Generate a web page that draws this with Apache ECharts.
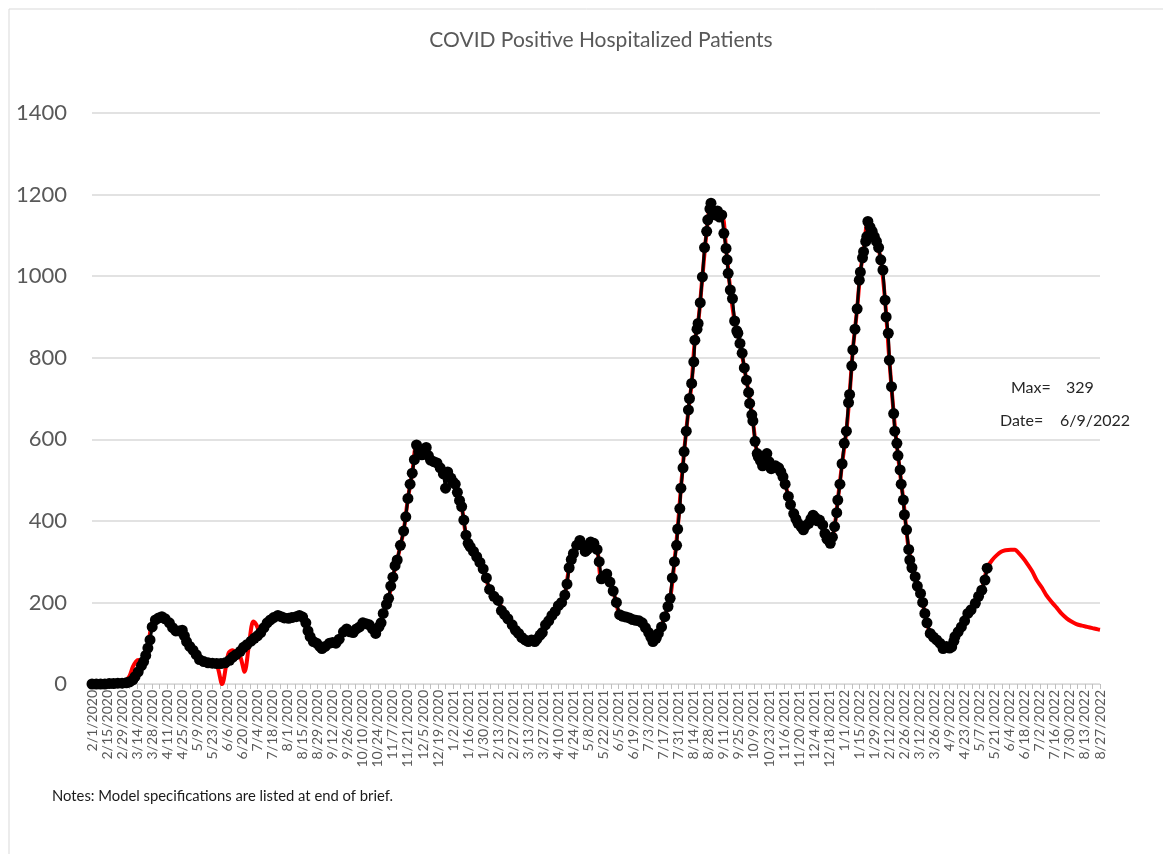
<!DOCTYPE html>
<html>
<head>
<meta charset="utf-8">
<script src="https://cdn.jsdelivr.net/npm/echarts@6/dist/echarts.min.js"></script>
<style>
html,body{margin:0;padding:0;background:#fff;}
#chart{width:1163px;height:854px;}
</style>
</head>
<body>
<div id="chart"></div>
<script>
// x tick labels (every 14 days from 2/1/2020)
const xTickLabels = ['2/1/2020','2/15/2020','2/29/2020','3/14/2020','3/28/2020','4/11/2020','4/25/2020','5/9/2020','5/23/2020','6/6/2020','6/20/2020','7/4/2020','7/18/2020','8/1/2020','8/15/2020','8/29/2020','9/12/2020','9/26/2020','10/10/2020','10/24/2020','11/7/2020','11/21/2020','12/5/2020','12/19/2020','1/2/2021','1/16/2021','1/30/2021','2/13/2021','2/27/2021','3/13/2021','3/27/2021','4/10/2021','4/24/2021','5/8/2021','5/22/2021','6/5/2021','6/19/2021','7/3/2021','7/17/2021','7/31/2021','8/14/2021','8/28/2021','9/11/2021','9/25/2021','10/9/2021','10/23/2021','11/6/2021','11/20/2021','12/4/2021','12/18/2021','1/1/2022','1/15/2022','1/29/2022','2/12/2022','2/26/2022','3/12/2022','3/26/2022','4/9/2022','4/23/2022','5/7/2022','5/21/2022','6/4/2022','6/18/2022','7/2/2022','7/16/2022','7/30/2022','8/13/2022','8/27/2022'];
const yTicks = [0,200,400,600,800,1000,1200,1400];

// Observed hospitalized patients: day offset from 2/1/2020, value
const observedDays = [0,4,8,12,16,20,24,28,32,35,38,40,43,46,48,50,52,54,56,59,62,65,68,72,75,78,81,84,86,88,91,94,97,100,104,108,112,116,120,124,128,131,134,138,141,144,148,151,154,157,160,163,166,169,173,176,179,183,186,190,193,196,199,201,203,206,209,212,214,217,221,224,227,230,234,237,240,243,246,249,252,255,258,261,264,267,269,271,274,276,278,280,282,284,287,290,292,294,296,298,300,302,304,307,309,311,313,315,318,321,324,327,329,331,334,336,338,340,342,344,346,348,350,352,355,358,361,364,367,370,374,378,381,384,387,391,394,397,400,403,406,409,412,414,417,419,422,425,428,431,434,437,440,442,444,446,448,451,454,457,459,461,464,467,470,472,474,476,479,482,485,488,491,494,497,500,503,506,509,512,515,518,520,522,525,527,530,533,536,538,540,542,544,545,547,548,550,551,553,555,556,558,560,561,563,564,566,568,570,572,573,575,576,578,580,582,584,586,588,590,591,592,594,596,598,600,601,603,605,607,609,611,612,614,615,617,619,620,622,624,626,628,630,632,634,636,639,641,643,645,648,650,653,655,657,660,662,664,667,669,671,673,675,677,680,682,684,687,689,691,693,694,696,698,700,702,704,705,707,708,710,712,714,715,717,718,720,721,722,724,726,728,730,732,734,736,738,739,741,742,744,746,747,749,750,752,753,755,756,758,760,761,763,766,768,771,773,775,777,780,783,786,789,792,795,798,800,802,803,806,809,812,815,818,822,825,828,831,833];
const observedValues = [0,0,0,0,1,1,2,2,3,5,10,18,30,45,55,70,88,108,140,157,162,165,160,150,138,130,130,132,118,104,92,83,72,60,55,52,51,50,50,52,58,66,72,80,90,96,105,112,118,126,138,150,157,163,168,165,162,161,163,165,168,164,150,130,116,104,100,92,87,92,100,102,100,110,128,135,128,126,135,140,150,148,145,135,124,140,150,173,195,210,240,262,290,304,340,375,410,455,490,517,550,586,570,562,575,580,560,549,545,542,530,515,480,520,505,495,490,470,450,435,402,365,345,336,325,312,298,282,260,232,215,205,180,170,160,145,132,124,114,108,104,108,104,110,120,126,145,155,168,178,192,200,218,245,285,305,320,340,352,340,325,330,348,345,330,300,258,262,270,250,228,200,170,166,164,162,158,156,155,150,138,126,115,104,112,124,140,165,190,210,260,300,340,380,430,480,530,570,620,672,700,737,790,843,870,884,935,998,1070,1110,1138,1165,1179,1160,1150,1160,1145,1150,1105,1068,1040,1007,966,945,890,866,860,835,811,775,745,715,688,660,645,595,565,557,548,535,550,565,545,528,530,535,530,520,508,490,460,440,418,405,394,385,378,388,394,405,414,408,400,402,390,369,355,345,360,386,420,451,490,540,590,620,690,710,780,819,870,920,990,1010,1045,1060,1085,1097,1134,1120,1110,1097,1085,1070,1040,1015,941,900,860,794,729,663,620,590,560,525,490,451,415,378,330,304,285,263,240,222,200,173,150,124,115,108,100,87,92,88,91,105,116,128,140,155,173,182,198,215,230,255,284];

// Model (red): day offset from 2/1/2020, value
const modelDays = [0,10,20,26,31,35,38,41,43,46,49,52,55,58,62,66,72,77,85,88,94,99,105,110,116,121,127,131,135,138,142,146,150,153,156,160,166,173,183,193,199,204,209,214,221,227,234,243,252,258,264,268,271,276,280,284,287,290,294,298,302,307,311,315,321,327,331,336,340,344,348,352,358,364,370,378,384,391,397,403,409,414,419,425,431,437,440,444,448,454,459,464,470,474,479,485,491,497,503,509,515,520,522,527,533,538,542,545,548,551,555,558,561,564,568,572,576,580,586,590,594,598,603,607,611,615,619,624,628,632,639,645,650,655,660,664,669,675,680,684,687,691,694,698,702,705,708,712,715,718,722,726,730,734,738,742,746,750,755,760,766,771,775,780,786,792,798,803,809,815,822,828,833,838,842,846,850,855,859,862,866,870,875,879,884,888,893,898,902,907,911,916,921,926,931,936,938];
const modelValues = [0,0,2,4,8,20,42,55,59,55,65,90,140,158,165,163,150,133,132,104,83,63,55,52,47,0,75,83,75,67,30,95,153,145,128,138,157,168,161,168,150,112,100,87,100,100,128,126,150,145,124,145,173,210,262,304,340,375,455,517,586,562,580,549,542,515,520,495,470,435,365,336,312,282,232,205,170,145,124,108,108,110,126,155,178,200,218,285,320,352,325,348,330,258,270,228,170,164,158,155,138,115,104,124,165,210,300,380,480,570,672,737,843,884,998,1110,1179,1150,1150,1068,966,890,835,775,715,645,565,535,565,528,530,490,440,405,385,388,405,400,390,355,345,386,451,540,620,710,819,920,1010,1060,1134,1110,1085,1040,941,794,663,560,451,330,263,222,173,124,108,87,88,116,140,173,198,230,284,305,316,324,328,329,329,322,310,296,276,255,236,218,201,186,173,161,154,147,143,140,137,134,133];

const pair = (ds, vs) => ds.map((d, i) => [d, vs[i]]);

const chart = echarts.init(document.getElementById('chart'), null, {renderer: 'canvas'});
const FONT = 'Lato, "Open Sans", sans-serif';

chart.setOption({
  animation: false,
  backgroundColor: '#ffffff',
  title: {
    text: 'COVID Positive Hospitalized Patients',
    left: 596,
    top: 25,
    textAlign: 'center',
    textStyle: {fontFamily: FONT, fontSize: 21, fontWeight: 'normal', color: '#595959'}
  },
  grid: {left: 92, right: 63, top: 113, bottom: 170, containLabel: false},
  xAxis: {
    type: 'value',
    min: 0,
    max: 938,
    interval: 14,
    axisLine: {show: true, lineStyle: {color: '#d9d9d9', width: 1}},
    axisTick: {show: true, length: 5, lineStyle: {color: '#bfbfbf'}},
    minorTick: {show: true, splitNumber: 2, length: 5, lineStyle: {color: '#bfbfbf'}},
    splitLine: {show: false},
    axisLabel: {
      rotate: 90,
      margin: 6,
      fontFamily: FONT,
      fontSize: 14,
      color: '#595959',
      hideOverlap: false,
      formatter: v => xTickLabels[Math.round(v / 14)] || ''
    }
  },
  yAxis: {
    type: 'value',
    min: 0,
    max: 1400,
    interval: 200,
    axisLine: {show: false},
    axisTick: {show: false},
    splitLine: {show: true, lineStyle: {color: '#d9d9d9', width: 1.5}},
    axisLabel: {
      margin: 25,
      fontFamily: FONT,
      fontSize: 22,
      color: '#595959',
      formatter: v => yTicks.includes(v) ? String(v) : ''
    }
  },
  series: [
    {
      name: 'Model',
      type: 'line',
      data: pair(modelDays, modelValues),
      showSymbol: false,
      smooth: 0.3,
      lineStyle: {color: '#ff0000', width: 4},
      z: 2
    },
    {
      name: 'Observed',
      type: 'line',
      data: pair(observedDays, observedValues),
      symbol: 'circle',
      symbolSize: 11,
      showSymbol: true,
      showAllSymbol: true,
      itemStyle: {color: '#000000'},
      lineStyle: {color: '#000000', width: 3},
      z: 3
    }
  ],
  graphic: [
    {type: 'rect', shape: {x: 9, y: 9, width: 1200, height: 900}, style: {fill: 'none', stroke: '#d9d9d9', lineWidth: 1}, silent: true},
    {type: 'text', left: 1011, top: 380, style: {text: 'Max=', fontFamily: FONT, fontSize: 16, fill: '#262626'}},
    {type: 'text', left: 1066, top: 380, style: {text: '329', fontFamily: FONT, fontSize: 16, fill: '#262626'}},
    {type: 'text', left: 1000, top: 413, style: {text: 'Date=', fontFamily: FONT, fontSize: 16, fill: '#262626'}},
    {type: 'text', left: 1060, top: 413, style: {text: '6/9/2022', fontFamily: FONT, fontSize: 16, fill: '#262626'}},
    {type: 'text', left: 52, top: 789, style: {text: 'Notes: Model specifications are listed at end of brief.', fontFamily: FONT, fontSize: 14.8, fill: '#1a1a1a'}}
  ]
});
</script>
</body>
</html>
